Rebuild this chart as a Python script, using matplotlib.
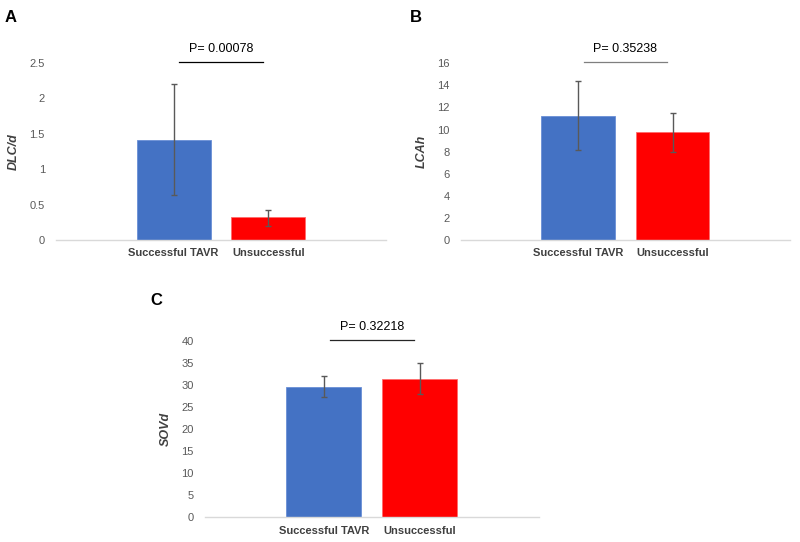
import matplotlib
matplotlib.use('Agg')
import matplotlib.pyplot as plt
import numpy as np

plt.rcParams['font.family'] = ['Liberation Sans', 'DejaVu Sans']

GROUPS = ['Successful TAVR', 'Unsuccessful']
COLORS = ['#4472C4', '#FF0000']

# panel A: DLC/d
DLC_MEAN = [1.41, 0.32]
DLC_LOW = [0.64, 0.20]
DLC_HIGH = [2.20, 0.42]
# panel B: LCAh
LCA_MEAN = [11.23, 9.75]
LCA_LOW = [8.18, 7.94]
LCA_HIGH = [14.37, 11.47]
# panel C: SOVd
SOV_MEAN = [29.6, 31.4]
SOV_LOW = [27.2, 27.9]
SOV_HIGH = [32.1, 34.9]

PANELS = [
    ('A', 'DLC/d', DLC_MEAN, DLC_LOW, DLC_HIGH, 'P= 0.00078', 2.5, 0.5, '#000000'),
    ('B', 'LCAh', LCA_MEAN, LCA_LOW, LCA_HIGH, 'P= 0.35238', 16, 2, '#7f7f7f'),
    ('C', 'SOVd', SOV_MEAN, SOV_LOW, SOV_HIGH, 'P= 0.32218', 40, 5, '#262626'),
]
RECTS = [
    [0.070, 0.5572, 0.4125, 0.3266],
    [0.576, 0.5572, 0.4112, 0.3260],
    [0.256, 0.0456, 0.4175, 0.3253],
]
LETTER_POS = [(0.006, 0.968), (0.512, 0.968), (0.188, 0.445)]

fig = plt.figure(figsize=(8, 5.42), dpi=100)
for (letter, ylab, mean, low, high, ptxt, ymax, step, pcol), rect, lpos in zip(PANELS, RECTS, LETTER_POS):
    ax = fig.add_axes(rect)
    x = np.arange(len(GROUPS))
    mean = np.array(mean)
    yerr = [mean - np.array(low), np.array(high) - mean]
    ax.bar(x, mean, width=0.78, color=COLORS, edgecolor=['#6a8fd6', '#ff6b6b'], linewidth=0.6, zorder=2)
    ax.errorbar(x, mean, yerr=yerr, fmt='none', ecolor='#595959', elinewidth=1.0,
                capsize=2.5, capthick=1.0, zorder=3)
    ax.set_xlim(-1.24, 2.24)
    ax.set_ylim(0, ymax)
    ticks = np.arange(0, ymax + step / 2, step)
    ax.set_yticks(ticks)
    ax.set_yticklabels([f'{t:g}' for t in ticks], color='#595959', fontsize=8)
    ax.set_xticks(x)
    ax.set_xticklabels(GROUPS, color='#404040', fontsize=8, fontweight='bold')
    ax.tick_params(axis='x', length=0, pad=6)
    ax.tick_params(axis='y', length=0, pad=8)
    for s in ['top', 'right', 'left']:
        ax.spines[s].set_visible(False)
    ax.spines['bottom'].set_color('#D9D9D9')
    ax.spines['bottom'].set_linewidth(1.0)
    ax.set_ylabel(ylab, fontsize=9, fontstyle='italic', fontweight='bold', color='#404040', labelpad=7)
    # significance bar
    ytop = ymax * 1.007
    ax.plot([0.06, 0.94], [ytop, ytop], color=pcol, linewidth=0.9, clip_on=False)
    ax.text(0.5, ymax * 1.045, ptxt, ha='center', va='bottom', fontsize=9, color='#000000')
    fig.text(lpos[0], lpos[1], letter, fontsize=12, fontweight='bold', ha='left', va='center')

fig.savefig('out.png', dpi=100)
